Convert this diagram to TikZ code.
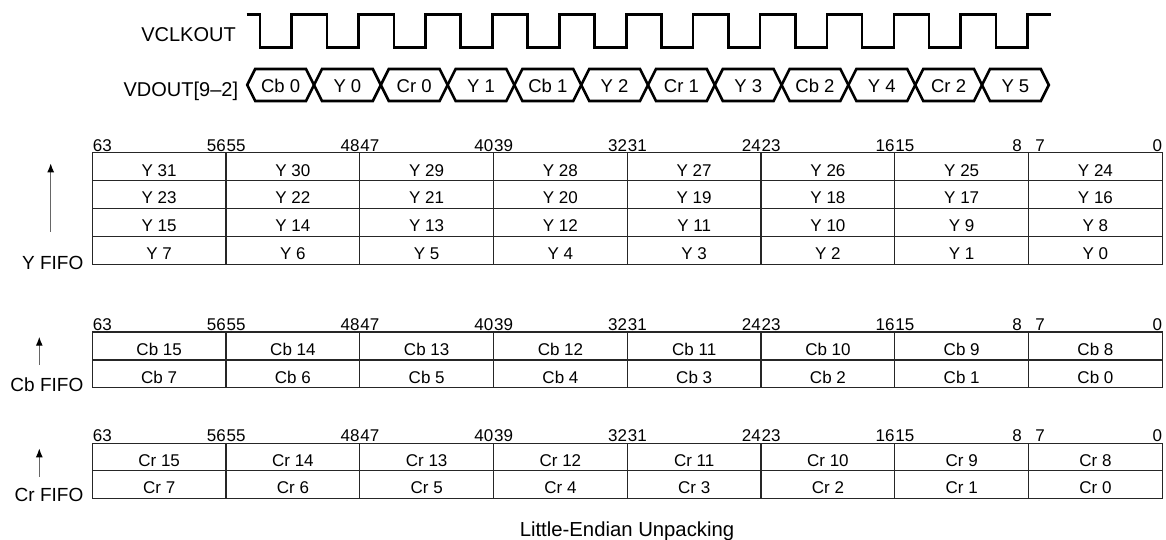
\documentclass[tikz,border=0pt]{standalone}
\usepackage{fontspec}
\setmainfont{Liberation Sans}
\usetikzlibrary{arrows.meta}
\newcommand\drawfifo[5]{% #1 id, #2 prefix, #3 top, #4 row height, #5 rows
  \pgfmathtruncatemacro\nr{#5-1}
  \foreach \r in {0,...,\nr} \foreach \c in {0,...,7} {
    \pgfmathtruncatemacro\n{8*(\nr-\r)+7-\c}
    \draw[grid] ({92.3+133.75*\c},{#3+#4*\r}) rectangle ++(133.75,#4);
    \node[cell] (#1-\r-\c) at ({92.3+133.75*\c+66.875},{#3+#4*\r+#4-4.6}) {#2 \n};
  }
  \foreach \c in {0,...,7} {
    \pgfmathtruncatemacro\hi{63-8*\c}
    \pgfmathtruncatemacro\lo{56-8*\c}
    \pgfmathsetmacro\dh{\c==7 ? 6.5 : 0.3}
    \pgfmathsetmacro\dl{\c==6 ? 6.6 : 0}
    \node[bit,anchor=base west] (#1-h\c) at ({92.3+133.75*\c+\dh},{#3-1.6}) {\hi};
    \node[bit,anchor=base east] (#1-l\c) at ({92.3+133.75*(\c+1)-\dl},{#3-1.6}) {\lo};
  }
}
\begin{document}
\begin{tikzpicture}[x=1pt,y=-1pt,
  sig/.style={line width=2.6pt, line join=miter},
  grid/.style={line width=1.3pt, draw=black!85},
  cell/.style={font=\fontsize{17}{20}\selectfont, anchor=base, inner sep=0pt},
  bit/.style={font=\fontsize{17}{20}\selectfont, inner sep=0pt},
  lbl/.style={font=\fontsize{20}{24}\selectfont, anchor=base east, inner sep=0pt},
  hex/.style={font=\fontsize{18.5}{22}\selectfont, anchor=base, inner sep=0pt},
  fifo/.style={font=\fontsize{19}{22}\selectfont, anchor=base east, inner sep=0pt},
  uparrow/.style={draw=black!60, line width=1.3pt, -{Latex[length=9pt,width=7pt,color=black]}}]
\useasboundingbox (0,0) rectangle (1166,540);

% clock
\draw[sig] (246.7,14.5) foreach \k in {0,...,11} {
  -- ({260+66.9*\k},14.5) -- ({260+66.9*\k},47.5)
  -- ({291.7+66.9*\k},47.5) -- ({291.7+66.9*\k},14.5) } -- (1051,14.5);

% data bus
\foreach \t [count=\j from 0] in {Cb 0, Y 0, Cr 0, Y 1, Cb 1, Y 2, Cr 1, Y 3, Cb 2, Y 4, Cr 2, Y 5} {
  \pgfmathsetmacro\a{247.2+66.8*\j}
  \pgfmathsetmacro\b{\a+66.8}
  \draw[sig] (\a,85) -- (\a+8,69) -- (\b-8,69) -- (\b,85) -- (\b-8,101) -- (\a+8,101) -- cycle;
  \node[hex] (d\j) at ({(\a+\b)/2},92.5) {\t};
}

\node[lbl] (clk) at (236,41.7) {VCLKOUT};
\node[lbl] (vd) at (238.3,96.7) {VDOUT[9–2]};

% FIFOs
\drawfifo{y}{Y}{152.8}{27.9}{4}
\drawfifo{cb}{Cb}{332}{27.9}{2}
\drawfifo{cr}{Cr}{443.3}{27.5}{2}

\node[fifo] (yf) at (83.5,269.3) {Y FIFO};
\node[fifo] (cbf) at (83.5,391.7) {Cb FIFO};
\node[fifo] (crf) at (83.5,501.7) {Cr FIFO};

\coordinate (ya0) at (50.7,231.7); \coordinate (ya1) at (50.7,163.3);
\coordinate (cba0) at (39.3,365); \coordinate (cba1) at (39.3,336.7);
\coordinate (cra0) at (39.3,476.7); \coordinate (cra1) at (39.3,448.3);
\draw[uparrow] (ya0) -- (ya1);
\draw[uparrow] (cba0) -- (cba1);
\draw[uparrow] (cra0) -- (cra1);

\node[font=\fontsize{20.3}{23}\selectfont, anchor=base, inner sep=0pt] (title) at (627,536) {Little-Endian Unpacking};
\end{tikzpicture}
\end{document}
